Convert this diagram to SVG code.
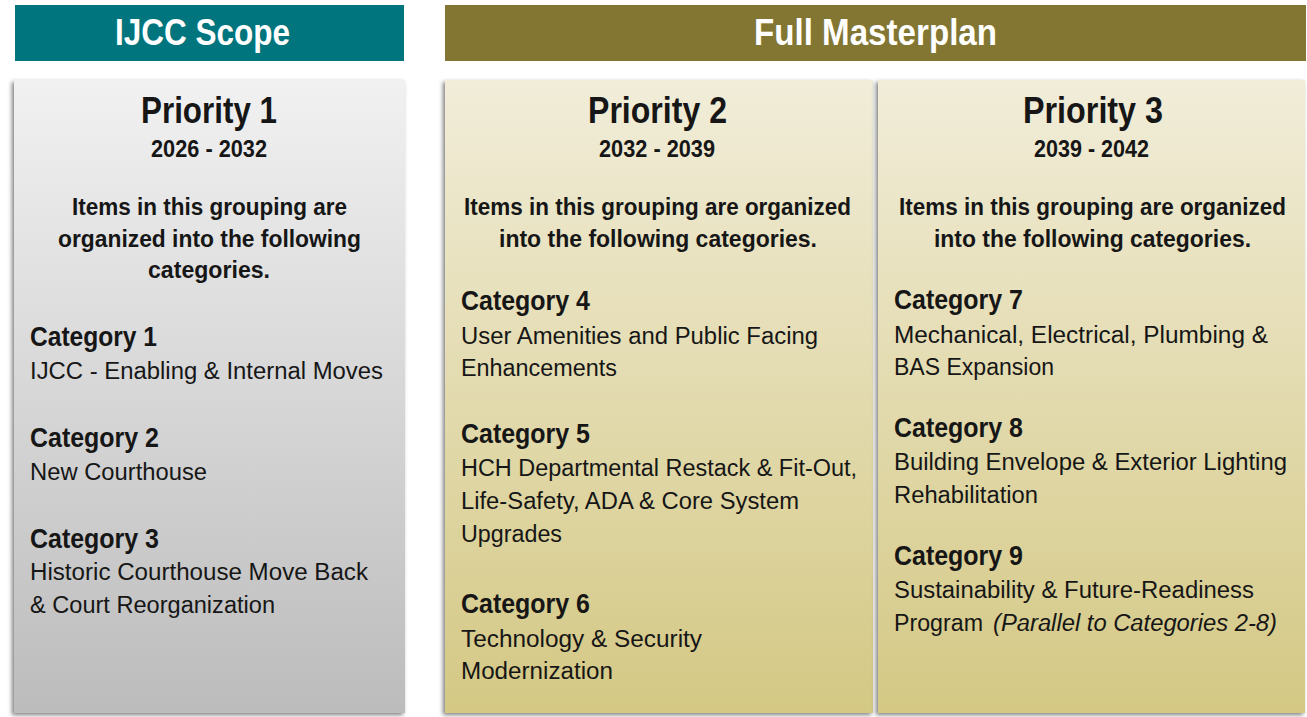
<svg xmlns="http://www.w3.org/2000/svg" width="1307" height="717" viewBox="0 0 1307 717">
  <defs>
    <linearGradient id="gradGray" x1="0" y1="0" x2="0" y2="1">
      <stop offset="0" stop-color="#F1F1F1"/>
      <stop offset="1" stop-color="#BCBCBC"/>
    </linearGradient>
    <linearGradient id="gradGold" x1="0" y1="0" x2="0" y2="1">
      <stop offset="0" stop-color="#F1EDD9"/>
      <stop offset="1" stop-color="#D4C884"/>
    </linearGradient>
    <filter id="shadow" x="-5%" y="-5%" width="110%" height="110%">
      <feDropShadow dx="-2" dy="2" stdDeviation="2" flood-color="#000" flood-opacity="0.5"/>
    </filter>
  </defs>
  <style>
    text { font-family: "Liberation Sans Narrow", "Liberation Sans", Arial, sans-serif; fill: #161616; }
    .hdr { font-size: 36px; font-weight: bold; fill: #FFFFFF; }
    .pri { font-size: 36px; font-weight: bold; }
    .yr { font-size: 23px; font-weight: bold; }
    .intro { font-size: 23px; font-weight: bold; }
    .cat { font-size: 28px; font-weight: bold; }
    .desc { font-size: 23.5px; }
    .it { font-size: 23.5px; font-style: italic; }
  </style>

  <rect width="1307" height="717" fill="#FFFFFF"/>

  <!-- Header bars -->
  <g id="header-ijcc">
    <rect x="15" y="5" width="389" height="56" fill="#00757D"/>
    <text class="hdr" x="115" y="45" textLength="175" lengthAdjust="spacingAndGlyphs">IJCC Scope</text>
  </g>
  <g id="header-masterplan">
    <rect x="445" y="5" width="861" height="56" fill="#827632"/>
    <text class="hdr" x="754" y="45" textLength="243" lengthAdjust="spacingAndGlyphs">Full Masterplan</text>
  </g>

  <!-- Priority 1 -->
  <g id="priority-1">
    <rect x="14" y="80" width="391" height="633" fill="url(#gradGray)" filter="url(#shadow)"/>
    <text class="pri" x="141" y="123" textLength="136" lengthAdjust="spacingAndGlyphs">Priority 1</text>
    <text class="yr" x="151" y="157" textLength="116" lengthAdjust="spacingAndGlyphs">2026 - 2032</text>
    <text class="intro" x="72" y="215" textLength="275" lengthAdjust="spacingAndGlyphs">Items in this grouping are</text>
    <text class="intro" x="58" y="247" textLength="303" lengthAdjust="spacingAndGlyphs">organized into the following</text>
    <text class="intro" x="148" y="278" textLength="122" lengthAdjust="spacingAndGlyphs">categories.</text>
    <text class="cat" x="30" y="346" textLength="127" lengthAdjust="spacingAndGlyphs">Category 1</text>
    <text class="desc" x="30" y="379" textLength="353" lengthAdjust="spacingAndGlyphs">IJCC - Enabling &amp; Internal Moves</text>
    <text class="cat" x="30" y="447" textLength="129" lengthAdjust="spacingAndGlyphs">Category 2</text>
    <text class="desc" x="30" y="480" textLength="177" lengthAdjust="spacingAndGlyphs">New Courthouse</text>
    <text class="cat" x="30" y="548" textLength="129" lengthAdjust="spacingAndGlyphs">Category 3</text>
    <text class="desc" x="30" y="580" textLength="338" lengthAdjust="spacingAndGlyphs">Historic Courthouse Move Back</text>
    <text class="desc" x="30" y="613" textLength="245" lengthAdjust="spacingAndGlyphs">&amp; Court Reorganization</text>
  </g>

  <!-- Priority 2 -->
  <g id="priority-2">
    <rect x="445" y="80" width="428" height="633" fill="url(#gradGold)" filter="url(#shadow)"/>
    <text class="pri" x="588" y="123" textLength="139" lengthAdjust="spacingAndGlyphs">Priority 2</text>
    <text class="yr" x="599" y="157" textLength="116" lengthAdjust="spacingAndGlyphs">2032 - 2039</text>
    <text class="intro" x="464" y="215" textLength="387" lengthAdjust="spacingAndGlyphs">Items in this grouping are organized</text>
    <text class="intro" x="499" y="247" textLength="318" lengthAdjust="spacingAndGlyphs">into the following categories.</text>
    <text class="cat" x="461" y="310" textLength="129" lengthAdjust="spacingAndGlyphs">Category 4</text>
    <text class="desc" x="461" y="344" textLength="357" lengthAdjust="spacingAndGlyphs">User Amenities and Public Facing</text>
    <text class="desc" x="461" y="376" textLength="156" lengthAdjust="spacingAndGlyphs">Enhancements</text>
    <text class="cat" x="461" y="443" textLength="129" lengthAdjust="spacingAndGlyphs">Category 5</text>
    <text class="desc" x="461" y="476" textLength="396" lengthAdjust="spacingAndGlyphs">HCH Departmental Restack &amp; Fit-Out,</text>
    <text class="desc" x="461" y="509" textLength="338" lengthAdjust="spacingAndGlyphs">Life-Safety, ADA &amp; Core System</text>
    <text class="desc" x="461" y="542" textLength="101" lengthAdjust="spacingAndGlyphs">Upgrades</text>
    <text class="cat" x="461" y="613" textLength="129" lengthAdjust="spacingAndGlyphs">Category 6</text>
    <text class="desc" x="461" y="647" textLength="241" lengthAdjust="spacingAndGlyphs">Technology &amp; Security</text>
    <text class="desc" x="461" y="679" textLength="152" lengthAdjust="spacingAndGlyphs">Modernization</text>
  </g>

  <!-- Priority 3 -->
  <g id="priority-3">
    <rect x="878" y="80" width="427" height="633" fill="url(#gradGold)" filter="url(#shadow)"/>
    <text class="pri" x="1023" y="123" textLength="140" lengthAdjust="spacingAndGlyphs">Priority 3</text>
    <text class="yr" x="1034" y="157" textLength="115" lengthAdjust="spacingAndGlyphs">2039 - 2042</text>
    <text class="intro" x="899" y="215" textLength="387" lengthAdjust="spacingAndGlyphs">Items in this grouping are organized</text>
    <text class="intro" x="934" y="247" textLength="317" lengthAdjust="spacingAndGlyphs">into the following categories.</text>
    <text class="cat" x="894" y="309" textLength="129" lengthAdjust="spacingAndGlyphs">Category 7</text>
    <text class="desc" x="894" y="343" textLength="374" lengthAdjust="spacingAndGlyphs">Mechanical, Electrical, Plumbing &amp;</text>
    <text class="desc" x="894" y="375" textLength="160" lengthAdjust="spacingAndGlyphs">BAS Expansion</text>
    <text class="cat" x="894" y="437" textLength="129" lengthAdjust="spacingAndGlyphs">Category 8</text>
    <text class="desc" x="894" y="470" textLength="393" lengthAdjust="spacingAndGlyphs">Building Envelope &amp; Exterior Lighting</text>
    <text class="desc" x="894" y="503" textLength="144" lengthAdjust="spacingAndGlyphs">Rehabilitation</text>
    <text class="cat" x="894" y="565" textLength="129" lengthAdjust="spacingAndGlyphs">Category 9</text>
    <text class="desc" x="894" y="598" textLength="360" lengthAdjust="spacingAndGlyphs">Sustainability &amp; Future-Readiness</text>
    <text class="desc" x="894" y="631" textLength="89" lengthAdjust="spacingAndGlyphs">Program</text>
    <text class="it" x="993" y="631" textLength="284" lengthAdjust="spacingAndGlyphs">(Parallel to Categories 2-8)</text>
  </g>

  <!-- No connectors in this layout -->
  <g id="connectors"/>
</svg>
